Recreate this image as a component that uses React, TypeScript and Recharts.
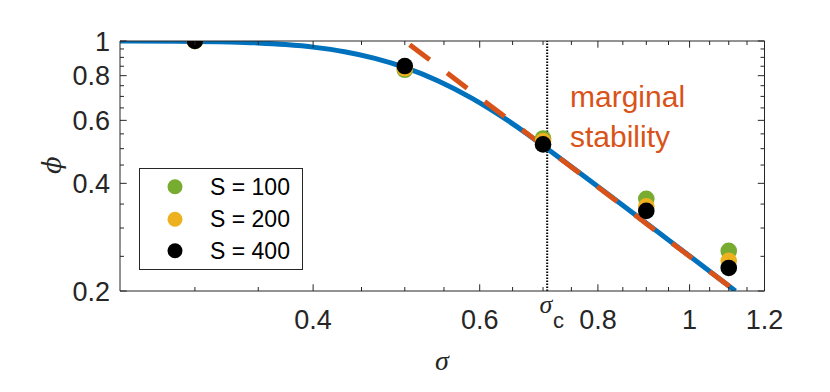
import React from 'react';
import { ComposedChart, Line, Scatter, XAxis, YAxis, ReferenceLine, Legend } from 'recharts';

// simulation points (sigma, phi) for three system sizes
const simSigma = [0.3, 0.5, 0.7, 0.9, 1.1];
const phiS100 = [1.0, 0.831, 0.534, 0.362, 0.259];
const phiS200 = [1.0, 0.839, 0.525, 0.345, 0.243];
const phiS400 = [1.0, 0.851, 0.514, 0.335, 0.232];

// cavity solution (blue curve)
const theorySigma = [0.25, 0.2554, 0.2875, 0.3266, 0.3493, 0.3742, 0.4017, 0.4318, 0.4649, 0.5016, 0.5425, 0.589, 0.6148, 0.6429, 0.6735, 0.7071, 1.118];
const theoryPhi = [1.0, 0.9998, 0.9987, 0.9938, 0.9878, 0.9772, 0.9599, 0.9332, 0.8944, 0.8413, 0.7734, 0.6915, 0.6462, 0.5987, 0.5497, 0.5, 0.2];

// marginal stability line (dashed)
const marginalSigma = [0.506, 1.118];
const marginalPhi = [0.976, 0.2];

const sigmaC = 0.7071;

const xTicks = [0.3, 0.35, 0.4, 0.45, 0.5, 0.55, 0.6, 0.65, 0.7, 0.75, 0.8, 0.85, 0.9, 0.95, 1, 1.05, 1.1, 1.15, 1.2];
const xLabeled = [0.4, 0.6, 0.8, 1, 1.2];
const yTicks = [0.2, 0.25, 0.3, 0.35, 0.4, 0.45, 0.5, 0.55, 0.6, 0.65, 0.7, 0.75, 0.8, 0.85, 0.9, 0.95, 1];
const yLabeled = [0.2, 0.4, 0.6, 0.8, 1];

const seriesNames = ['S = 100', 'S = 200', 'S = 400'];
const seriesColors = ['#77AC30', '#EDB120', '#000000'];

const toPoints = (xs: number[], ys: number[]) => xs.map((s, i) => ({ sigma: s, phi: ys[i] }));

const theory = toPoints(theorySigma, theoryPhi);
const marginal = toPoints(marginalSigma, marginalPhi);
const sims = [phiS100, phiS200, phiS400].map(ys => toPoints(simSigma, ys));

const AX = '#262626';
const FONT = '"Liberation Sans", Arial, sans-serif';
const isIn = (v: number, list: number[]) => list.some(t => Math.abs(t - v) < 1e-6);

const XTick = (props: any) => {
  const { x, y, payload, top } = props;
  const major = isIn(payload.value, xLabeled);
  const len = major ? 6.7 : 4;
  return (
    <g>
      <line x1={x} x2={x} y1={y} y2={top ? y + len : y - len} stroke={AX} strokeWidth={1} />
      {!top && major && (
        <text x={x} y={y + 38} textAnchor="middle" fontFamily={FONT} fontSize={27} fill={AX}>
          {String(payload.value)}
        </text>
      )}
    </g>
  );
};

const YTick = (props: any) => {
  const { x, y, payload, right } = props;
  const major = isIn(payload.value, yLabeled);
  const len = major ? 6.7 : 4;
  return (
    <g>
      <line x1={x} x2={right ? x - len : x + len} y1={y} y2={y} stroke={AX} strokeWidth={1} />
      {!right && major && (
        <text x={x - 10} y={y + 9.5} textAnchor="end" fontFamily={FONT} fontSize={27} fill={AX}>
          {String(payload.value)}
        </text>
      )}
    </g>
  );
};

const dot = (color: string) => (p: any) => <circle cx={p.cx} cy={p.cy} r={8.3} fill={color} />;

const LegendBox = () => (
  <svg width={164} height={102}>
    <rect x={0.5} y={0.5} width={163} height={101} fill="#fff" stroke={AX} strokeWidth={1} />
    {seriesNames.map((name, i) => {
      const cy = [18.7, 51.3, 82.7][i];
      return (
        <g key={name}>
          <circle cx={36} cy={cy} r={7.5} fill={seriesColors[i]} />
          <text x={71} y={cy + 8} fontFamily={FONT} fontSize={23} fill="#000">{name}</text>
        </g>
      );
    })}
  </svg>
);

const App = () => {
  const xDomain = [0.25, 1.2];
  const yDomain = [0.2, 1];
  return (
    <div style={{ position: 'absolute', left: 0, top: 0, width: 830, height: 392, background: '#fff' }}>
      <ComposedChart width={830} height={392} margin={{ top: 40, right: 64.5, bottom: 100, left: 119 }}>
        <XAxis xAxisId="b" dataKey="sigma" type="number" scale="log" domain={xDomain} allowDataOverflow
          ticks={xTicks} interval={0} height={1} tickSize={0} tickMargin={0}
          axisLine={{ stroke: AX }} tickLine={false} tick={<XTick />} />
        <XAxis xAxisId="t" orientation="top" dataKey="sigma" type="number" scale="log" domain={xDomain} allowDataOverflow
          ticks={xTicks} interval={0} height={1} tickSize={0} tickMargin={0}
          axisLine={{ stroke: AX }} tickLine={false} tick={<XTick top />} />
        <YAxis yAxisId="l" dataKey="phi" type="number" scale="log" domain={yDomain} allowDataOverflow
          ticks={yTicks} interval={0} width={1} tickSize={0} tickMargin={0}
          axisLine={{ stroke: AX }} tickLine={false} tick={<YTick />} />
        <YAxis yAxisId="r" orientation="right" dataKey="phi" type="number" scale="log" domain={yDomain} allowDataOverflow
          ticks={yTicks} interval={0} width={1} tickSize={0} tickMargin={0}
          axisLine={{ stroke: AX }} tickLine={false} tick={<YTick right />} />
        <ReferenceLine xAxisId="b" yAxisId="l" x={sigmaC} stroke="#000" strokeWidth={2} strokeDasharray="1.5 1.5" />
        <Line xAxisId="b" yAxisId="l" data={theory} dataKey="phi" type="monotone" stroke="#0072BD"
          strokeWidth={5} dot={false} isAnimationActive={false} />
        <Line xAxisId="b" yAxisId="l" data={marginal} dataKey="phi" type="linear" stroke="#D95319"
          strokeWidth={5} strokeDasharray="25 22" dot={false} isAnimationActive={false} />
        {sims.map((d, i) => (
          <Scatter key={seriesNames[i]} xAxisId="b" yAxisId="l" data={d} name={seriesNames[i]}
            fill={seriesColors[i]} shape={dot(seriesColors[i])} isAnimationActive={false} />
        ))}
        <Legend layout="horizontal" verticalAlign="middle" align="center" content={<LegendBox />}
          wrapperStyle={{ position: 'absolute', left: 139, top: 168, width: 164, height: 102 }} />
      </ComposedChart>
      <svg width={830} height={392} style={{ position: 'absolute', left: 0, top: 0, pointerEvents: 'none' }}>
        <text x={570} y={107.3} fontFamily={FONT} fontSize={30} fill="#D95319">marginal</text>
        <text x={570} y={147.3} fontFamily={FONT} fontSize={30} fill="#D95319">stability</text>
        <text x={546} y={313} textAnchor="middle" fontFamily='"Liberation Serif", serif' fontStyle="italic" fontSize={26} fill={AX}>σ</text>
        <text x={553} y={328} fontFamily={FONT} fontSize={22} fill={AX}>c</text>
        <text x={442} y={370} textAnchor="middle" fontFamily='"Liberation Serif", serif' fontStyle="italic" fontSize={28} fill={AX}>σ</text>
        <text x={61} y={165} textAnchor="middle" transform="rotate(-90 61 165)" fontFamily='"DejaVu Serif", serif' fontStyle="italic" fontSize={26} fill={AX}>ϕ</text>
      </svg>
    </div>
  );
};

export default App;
